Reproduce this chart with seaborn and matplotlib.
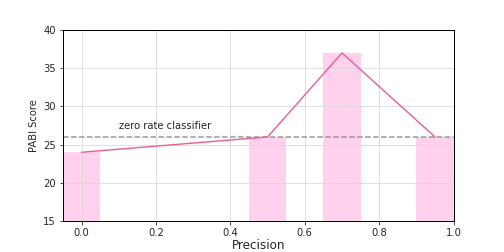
import matplotlib
matplotlib.use("Agg")
import matplotlib.pyplot as plt
import seaborn as sns
import pandas as pd

precision = [0.0, 0.5, 0.7, 0.95]
pabi_score = [24, 26, 37, 26]
zero_rate = 26

df = pd.DataFrame({"Precision": precision, "PABI Score": pabi_score})

sns.set_style("white")
fig = plt.figure(figsize=(7, 3.5), dpi=72)
ax = fig.add_axes([0.125, 0.123, 0.775, 0.758])

sns.barplot(data=df, x="Precision", y="PABI Score", native_scale=True, width=0.5,
            color="#ffd1ec", saturation=1, linewidth=0, ax=ax, zorder=2)
sns.lineplot(data=df, x="Precision", y="PABI Score", color="#ea5e96", lw=1.4, ax=ax, zorder=5)
ax.axhline(zero_rate, color="#999999", ls="--", lw=1.5, zorder=4)
ax.text(0.1, 27, "zero rate classifier", fontsize=10)

ax.set_xlim(-0.05, 1.0)
ax.set_ylim(15, 40)
ax.set_xticks([0.0, 0.2, 0.4, 0.6, 0.8, 1.0])
ax.set_xticklabels(["0.0", "0.2", "0.4", "0.6", "0.8", "1.0"])
ax.set_yticks([15, 20, 25, 30, 35, 40])
ax.grid(True, color="#d9d9d9", lw=0.8)
ax.set_axisbelow(False)
for line in ax.get_xgridlines() + ax.get_ygridlines():
    line.set_zorder(3)
for s in ax.spines.values():
    s.set_color("black")
    s.set_linewidth(1)
    s.set_zorder(6)
ax.tick_params(axis="both", labelsize=10, length=3.5, direction="out", left=True, bottom=True)
ax.set_xlabel("Precision", fontsize=12, labelpad=1)
ax.set_ylabel("PABI Score", fontsize=10)

fig.savefig("out.png", dpi=72)
